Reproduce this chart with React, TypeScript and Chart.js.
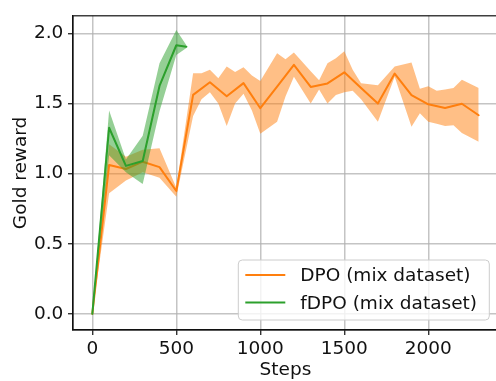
import React, { useEffect, useRef } from "react";
import { Chart, registerables } from "chart.js";

Chart.register(...registerables);

// ---- data ----
const dpoSteps = [0, 100, 200, 300, 400, 500, 600, 700, 800, 900, 1000, 1100, 1200, 1300, 1400, 1500, 1600, 1700, 1800, 1900, 2000, 2100, 2200, 2300];
const dpoMean = [0, 1.062, 1.033, 1.085, 1.046, 0.876, 1.561, 1.651, 1.551, 1.645, 1.466, 1.62, 1.775, 1.618, 1.643, 1.722, 1.61, 1.499, 1.713, 1.56, 1.494, 1.468, 1.498, 1.416];

const dpoBandSteps = [0, 100, 200, 300, 400, 500, 600, 650, 700, 750, 800, 850, 900, 950, 1000, 1100, 1150, 1200, 1300, 1350, 1400, 1450, 1500, 1550, 1600, 1700, 1800, 1900, 1950, 2000, 2050, 2100, 2150, 2200, 2300];
const dpoLower = [0, 0.86, 0.95, 1.01, 0.97, 0.835, 1.41, 1.53, 1.58, 1.5, 1.34, 1.5, 1.57, 1.45, 1.285, 1.37, 1.55, 1.69, 1.5, 1.6, 1.5, 1.56, 1.58, 1.59, 1.53, 1.37, 1.69, 1.334, 1.43, 1.37, 1.355, 1.34, 1.345, 1.29, 1.227];
const dpoUpper = [0, 1.21, 1.12, 1.17, 1.18, 0.9, 1.716, 1.716, 1.74, 1.68, 1.763, 1.725, 1.758, 1.7, 1.66, 1.858, 1.815, 1.863, 1.73, 1.665, 1.787, 1.822, 1.872, 1.74, 1.645, 1.63, 1.763, 1.792, 1.605, 1.622, 1.59, 1.6, 1.61, 1.669, 1.61];

const fdpoSteps = [0, 100, 200, 300, 400, 500, 560];
const fdpoMean = [0, 1.327, 1.055, 1.09, 1.625, 1.915, 1.905];
const fdpoLower = [0, 1.13, 1.01, 0.925, 1.445, 1.846, 1.895];
const fdpoUpper = [0, 1.45, 1.1, 1.27, 1.787, 2.023, 1.915];

const xTicks = [0, 500, 1000, 1500, 2000];
const yTicks = [0, 0.5, 1.0, 1.5, 2.0];
const legendLabels = ["DPO (mix dataset)", "fDPO (mix dataset)"];
const xTitle = "Steps";
const yTitle = "Gold reward";

const ORANGE = "#ff7f0e";
const GREEN = "#2ca02c";
const ORANGE_FILL = "rgba(255,127,14,0.5)";
const GREEN_FILL = "rgba(44,160,44,0.5)";
const FONT = "DejaVu Sans";
const FS = 18.5;
const INK = "#111111";
const GRID = "rgba(176,176,176,0.75)";

const pts = (xs: number[], ys: number[]) => xs.map((x, i) => ({ x, y: ys[i] }));

export default function App() {
  const ref = useRef<HTMLCanvasElement | null>(null);

  useEffect(() => {
    const canvas = ref.current;
    if (!canvas) return;

    const framePlugin = {
      id: "frameLegend",
      afterDraw(chart: any) {
        const { ctx, chartArea: a } = chart;
        ctx.save();
        ctx.strokeStyle = INK;
        ctx.lineWidth = 1.2;
        ctx.strokeRect(a.left, a.top, a.right - a.left, a.bottom - a.top);

        // legend box
        const bx1 = a.right - 8.7;
        const by2 = a.bottom - 10;
        const bx0 = bx1 - 251;
        const by0 = by2 - 60;
        const r = 4;
        ctx.beginPath();
        ctx.moveTo(bx0 + r, by0);
        ctx.lineTo(bx1 - r, by0);
        ctx.quadraticCurveTo(bx1, by0, bx1, by0 + r);
        ctx.lineTo(bx1, by2 - r);
        ctx.quadraticCurveTo(bx1, by2, bx1 - r, by2);
        ctx.lineTo(bx0 + r, by2);
        ctx.quadraticCurveTo(bx0, by2, bx0, by2 - r);
        ctx.lineTo(bx0, by0 + r);
        ctx.quadraticCurveTo(bx0, by0, bx0 + r, by0);
        ctx.closePath();
        ctx.fillStyle = "rgba(255,255,255,0.8)";
        ctx.fill();
        ctx.strokeStyle = "#cccccc";
        ctx.lineWidth = 1;
        ctx.stroke();

        const colors = [ORANGE, GREEN];
        const rows = [by0 + 15, by0 + 42.5];
        ctx.font = `${FS}px "${FONT}"`;
        ctx.textBaseline = "alphabetic";
        ctx.textAlign = "left";
        legendLabels.forEach((lab, i) => {
          ctx.strokeStyle = colors[i];
          ctx.lineWidth = 2;
          ctx.beginPath();
          ctx.moveTo(bx0 + 7, rows[i]);
          ctx.lineTo(bx0 + 47, rows[i]);
          ctx.stroke();
          ctx.fillStyle = INK;
          ctx.fillText(lab, bx0 + 62, rows[i] + 6.3);
        });
        ctx.restore();
      },
    };

    const chart = new Chart(canvas, {
      type: "line",
      data: {
        datasets: [
          {
            label: "dpo-lower",
            data: pts(dpoBandSteps, dpoLower),
            borderWidth: 0,
            borderColor: "rgba(0,0,0,0)",
            pointRadius: 0,
            fill: false,
            order: 4,
          },
          {
            label: "dpo-upper",
            data: pts(dpoBandSteps, dpoUpper),
            borderWidth: 0,
            borderColor: "rgba(0,0,0,0)",
            backgroundColor: ORANGE_FILL,
            pointRadius: 0,
            fill: 0,
            order: 4,
          },
          {
            label: legendLabels[0],
            data: pts(dpoSteps, dpoMean),
            borderColor: ORANGE,
            borderWidth: 2,
            pointRadius: 0,
            fill: false,
            order: 3,
          },
          {
            label: "fdpo-lower",
            data: pts(fdpoSteps, fdpoLower),
            borderWidth: 0,
            borderColor: "rgba(0,0,0,0)",
            pointRadius: 0,
            fill: false,
            order: 2,
          },
          {
            label: "fdpo-upper",
            data: pts(fdpoSteps, fdpoUpper),
            borderWidth: 0,
            borderColor: "rgba(0,0,0,0)",
            backgroundColor: GREEN_FILL,
            pointRadius: 0,
            fill: 3,
            order: 2,
          },
          {
            label: legendLabels[1],
            data: pts(fdpoSteps, fdpoMean),
            borderColor: GREEN,
            borderWidth: 2,
            pointRadius: 0,
            fill: false,
            order: 1,
          },
        ],
      },
      options: {
        animation: false,
        responsive: false,
        devicePixelRatio: 1,
        layout: { padding: { left: 0, top: 14, right: 2, bottom: 0 } },
        elements: { line: { tension: 0, borderJoinStyle: "round", borderCapStyle: "round" } },
        plugins: {
          legend: { display: false },
          tooltip: { enabled: false },
        },
        scales: {
          x: {
            type: "linear",
            min: -115,
            max: 2415,
            afterBuildTicks: (s: any) => {
              s.ticks = xTicks.map((v) => ({ value: v }));
            },
            afterFit: (s: any) => {
              s.height = 51;
            },
            ticks: {
              font: { family: FONT, size: FS },
              color: INK,
              padding: 3,
              maxRotation: 0,
              autoSkip: false,
              callback: (v: any) => String(v),
            },
            grid: {
              color: GRID,
              lineWidth: 1.5,
              tickColor: INK,
              tickLength: 5,
              tickWidth: 1.2,
              drawTicks: true,
            },
            border: { display: true, color: INK, width: 1.2 },
            title: {
              display: true,
              text: xTitle,
              color: INK,
              font: { family: FONT, size: FS },
              padding: { top: 0, bottom: 0 },
            },
          },
          y: {
            type: "linear",
            min: -0.115,
            max: 2.125,
            afterBuildTicks: (s: any) => {
              s.ticks = yTicks.map((v) => ({ value: v }));
            },
            afterFit: (s: any) => {
              s.width = 73;
            },
            ticks: {
              font: { family: FONT, size: FS },
              color: INK,
              padding: 4.7,
              autoSkip: false,
              callback: (v: any) => Number(v).toFixed(1),
            },
            grid: {
              color: GRID,
              lineWidth: 1.5,
              tickColor: INK,
              tickLength: 5,
              tickWidth: 1.2,
              drawTicks: true,
            },
            border: { display: true, color: INK, width: 1.2 },
            title: {
              display: true,
              text: yTitle,
              color: INK,
              font: { family: FONT, size: FS },
              padding: { top: 10, bottom: 0 },
            },
          },
        },
      },
      plugins: [framePlugin],
    } as any);

    return () => chart.destroy();
  }, []);

  return (
    <div style={{ position: "absolute", left: 0, top: 0, width: 496, height: 381, overflow: "hidden", background: "#fff" }}>
      <canvas ref={ref} width={500} height={381} style={{ display: "block" }} />
    </div>
  );
}
